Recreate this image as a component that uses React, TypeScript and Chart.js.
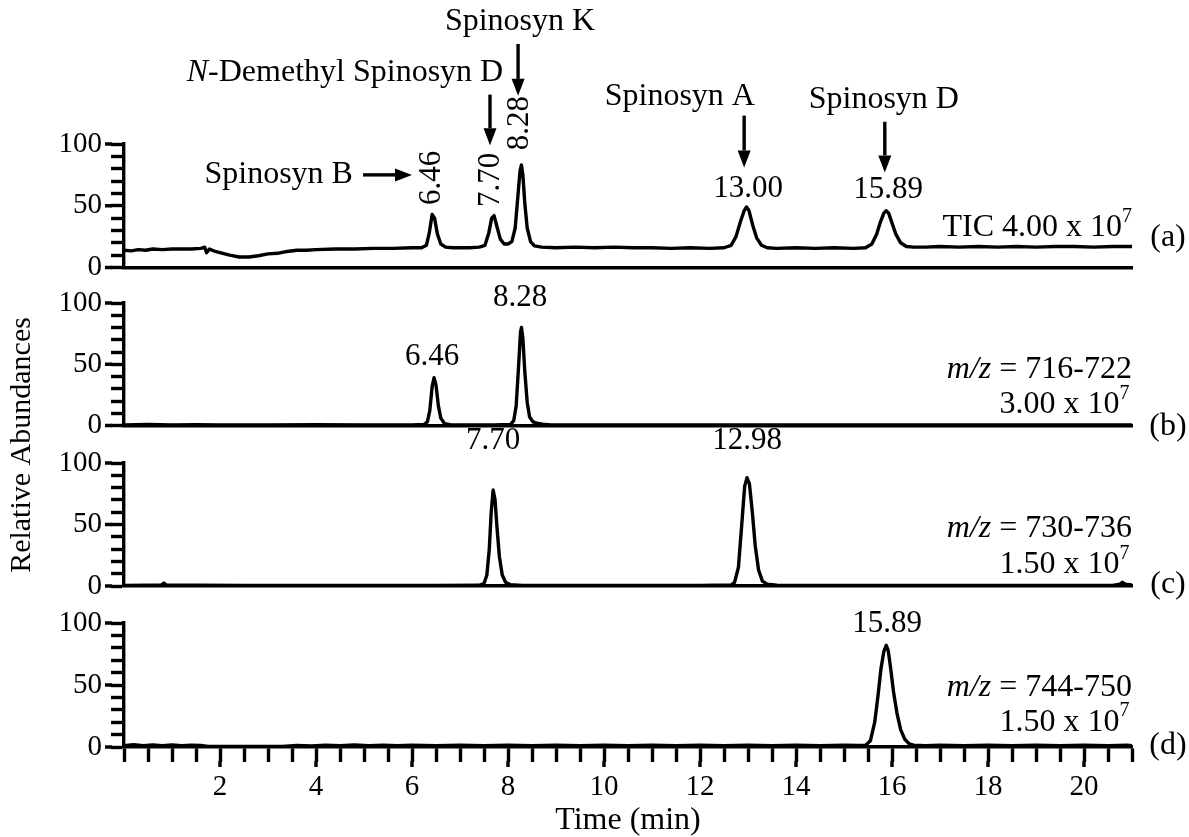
import React, { useEffect, useRef } from 'react';
import { Chart, registerables } from 'chart.js';

Chart.register(...registerables);

const W = 1189;
const H = 837;
const FAMILY = "'Liberation Serif', 'Times New Roman', serif";
const PLOT_LEFT = 124;
const PLOT_RIGHT = 1132;
const LINE = 3.4;

// ---- axis ticks ----
const timeMin = 0;
const timeMax = 21;
const timeStep = 0.5;
const timeTickLabels = [2, 4, 6, 8, 10, 12, 14, 16, 18, 20];
const abundanceStep = 10;
const abundanceTickLabels = [0, 50, 100];

// ---- traces: [time (min), relative abundance] ----
const ticTrace: [number, number][] = [
  [0, 14], [0.15, 13.5], [0.3, 14.5], [0.45, 14], [0.6, 15], [0.8, 14.5], [1.0, 15], [1.2, 15], [1.4, 15],
  [1.6, 15.5], [1.68, 16.5], [1.72, 12], [1.78, 15], [1.9, 13], [2.0, 12], [2.2, 10], [2.4, 8.5], [2.6, 8.5],
  [2.8, 9.5], [3.0, 11], [3.2, 11.5], [3.4, 13], [3.6, 14], [3.8, 14], [4.0, 14.5], [4.4, 15], [4.8, 15],
  [5.2, 15.5], [5.6, 15.5], [6.0, 16], [6.2, 16], [6.3, 18], [6.36, 28], [6.42, 43], [6.47, 40], [6.53, 27],
  [6.6, 19], [6.7, 16.5], [6.85, 16], [7.0, 16], [7.2, 16], [7.4, 16.5], [7.52, 18], [7.6, 28], [7.66, 40],
  [7.71, 42], [7.77, 33], [7.84, 23], [7.92, 19], [8.0, 19], [8.08, 21], [8.15, 32], [8.2, 55], [8.25, 78],
  [8.28, 83], [8.31, 75], [8.35, 52], [8.4, 32], [8.47, 21], [8.55, 17.5], [8.7, 16.5], [9.0, 16], [9.4, 16.5],
  [9.8, 16], [10.2, 16.5], [10.6, 16], [11.0, 16], [11.4, 15.5], [11.8, 16], [12.2, 15.5], [12.5, 16],
  [12.65, 18], [12.75, 25], [12.85, 38], [12.92, 46], [12.97, 49], [13.02, 46], [13.1, 34], [13.18, 24],
  [13.28, 18], [13.4, 16], [13.6, 15.5], [14.0, 16], [14.4, 15.5], [14.8, 16], [15.2, 15.5], [15.45, 16],
  [15.58, 19], [15.68, 27], [15.76, 37], [15.83, 44], [15.88, 46], [15.93, 44], [16.0, 36], [16.08, 27],
  [16.18, 20], [16.3, 17], [16.45, 16.5], [16.7, 16.5], [17.0, 17], [17.4, 16.5], [17.8, 17], [18.2, 16.5],
  [18.6, 17], [19.0, 16.5], [19.4, 17], [19.8, 17], [20.2, 16.5], [20.6, 17], [21.0, 17],
];

const ion716Trace: [number, number][] = [
  [0, 0.5], [0.5, 0.8], [1.0, 0.5], [1.5, 0.7], [2.0, 0.5], [3.0, 0.5], [4.0, 0.6], [5.0, 0.5], [6.0, 0.5],
  [6.25, 0.8], [6.32, 3], [6.37, 12], [6.42, 32], [6.46, 39], [6.5, 33], [6.55, 16], [6.6, 6], [6.68, 1.5],
  [6.8, 0.6], [7.2, 0.5], [7.7, 0.5], [8.05, 0.8], [8.12, 4], [8.17, 16], [8.22, 48], [8.26, 76], [8.28, 80],
  [8.31, 71], [8.35, 44], [8.4, 19], [8.45, 7], [8.52, 3], [8.6, 2], [8.72, 1], [8.9, 0.5], [10, 0.5],
  [12, 0.5], [14, 0.5], [16, 0.5], [18, 0.5], [20, 0.5], [21, 0.5],
];

const ion730Trace: [number, number][] = [
  [0, 0.5], [0.5, 0.6], [0.78, 0.8], [0.83, 2.5], [0.88, 0.8], [1.5, 0.6], [2.5, 0.5], [3.5, 0.5], [5, 0.5],
  [6.5, 0.5], [7.4, 0.6], [7.5, 2], [7.56, 9], [7.61, 30], [7.65, 60], [7.69, 78], [7.73, 70], [7.77, 48],
  [7.82, 24], [7.88, 9], [7.95, 3], [8.05, 1], [8.3, 0.5], [10, 0.5], [12, 0.5], [12.65, 0.8], [12.72, 3],
  [12.8, 15], [12.87, 50], [12.93, 81], [12.98, 88], [13.03, 83], [13.09, 60], [13.15, 33], [13.22, 13],
  [13.3, 4], [13.4, 1.5], [13.6, 0.6], [15, 0.5], [17, 0.5], [19, 0.5], [20.6, 0.5], [20.75, 1.5], [20.8, 3],
  [20.86, 1.5], [21, 0.8],
];

const ion744Trace: [number, number][] = [
  [0, 1], [0.2, 1.8], [0.4, 1], [0.6, 1.6], [0.8, 1.1], [1.0, 1.7], [1.2, 1], [1.4, 1.5], [1.6, 1.2],
  [1.75, 0.5], [2.5, 0.4], [3.3, 0.5], [3.6, 1.2], [3.9, 0.8], [4.2, 1.5], [4.5, 1], [4.8, 1.6], [5.1, 1],
  [5.4, 1.5], [5.7, 1], [6.0, 1.4], [6.5, 1], [7.0, 1.5], [7.5, 1], [8.0, 1.4], [8.5, 1], [9.0, 1.5],
  [9.5, 1], [10.0, 1.4], [10.5, 1], [11.0, 1.5], [11.5, 1], [12.0, 1.4], [12.5, 1], [13.0, 1.5], [13.5, 1],
  [14.0, 1.5], [14.5, 1], [15.0, 1.5], [15.3, 1.2], [15.45, 1.5], [15.55, 5], [15.64, 20], [15.71, 42],
  [15.77, 63], [15.83, 77], [15.88, 82], [15.92, 78], [15.97, 64], [16.03, 45], [16.1, 28], [16.18, 14],
  [16.27, 6], [16.36, 2.5], [16.45, 1.5], [16.7, 1], [17.0, 1.4], [17.5, 1], [18.0, 1.5], [18.5, 1],
  [19.0, 1.5], [19.5, 1], [20.0, 1.5], [20.5, 1], [20.9, 1.5], [21, 1],
];

// ---- annotations ----
type Seg = { t: string; it?: boolean; sup?: boolean };
type Note =
  | { kind: 'text'; x: number; y: number; segs: Seg[]; align?: 'left' | 'center' | 'right'; rot?: boolean; size?: number; px?: boolean }
  | { kind: 'arrow'; x1: number; y1: number; x2: number; y2: number };

const NAME = 32;
const PEAK = 31;
const t = (s: string): Seg[] => [{ t: s }];
const tenTo = (lead: string): Seg[] => [{ t: lead + ' x 10' }, { t: '7', sup: true }];
const mz = (range: string): Seg[] => [{ t: 'm/z', it: true }, { t: ' = ' + range }];

const notesA: Note[] = [
  { kind: 'text', x: 8.25, y: 199, segs: t('Spinosyn K'), size: NAME },
  { kind: 'arrow', x1: 8.21, y1: 181, x2: 8.21, y2: 139 },
  { kind: 'text', x: 7.9, y: 158, segs: [{ t: 'N', it: true }, { t: '-Demethyl Spinosyn D' }], align: 'right', size: NAME },
  { kind: 'arrow', x1: 7.625, y1: 140, x2: 7.625, y2: 99 },
  { kind: 'text', x: 4.77, y: 75, segs: t('Spinosyn B'), align: 'right', size: NAME },
  { kind: 'arrow', x1: 4.98, y1: 75, x2: 6.0, y2: 75 },
  { kind: 'text', x: 6.42, y: 72.5, segs: t('6.46'), rot: true, size: PEAK },
  { kind: 'text', x: 7.65, y: 71, segs: t('7.70'), rot: true, size: PEAK },
  { kind: 'text', x: 8.25, y: 117, segs: t('8.28'), rot: true, size: PEAK },
  { kind: 'text', x: 11.58, y: 138, segs: t('Spinosyn A'), size: NAME },
  { kind: 'arrow', x1: 12.92, y1: 123, x2: 12.92, y2: 81 },
  { kind: 'text', x: 13.0, y: 64, segs: t('13.00'), size: PEAK },
  { kind: 'text', x: 15.83, y: 135.6, segs: t('Spinosyn D'), size: NAME },
  { kind: 'arrow', x1: 15.85, y1: 118, x2: 15.85, y2: 77 },
  { kind: 'text', x: 15.92, y: 63, segs: t('15.89'), size: PEAK },
  { kind: 'text', x: 21, y: 32, segs: [{ t: 'TIC 4.00 x 10' }, { t: '7', sup: true }], align: 'right', size: NAME },
  { kind: 'text', x: 21.75, y: 24, segs: t('(a)'), size: NAME },
];

const notesB: Note[] = [
  { kind: 'text', x: 6.42, y: 56, segs: t('6.46'), size: PEAK },
  { kind: 'text', x: 8.25, y: 104, segs: t('8.28'), size: PEAK },
  { kind: 'text', x: 21, y: 45.7, segs: mz('716-722'), align: 'right', size: NAME },
  { kind: 'text', x: 20.95, y: 16.7, segs: tenTo('3.00'), align: 'right', size: NAME },
  { kind: 'text', x: 21.75, y: -1, segs: t('(b)'), size: NAME },
];

const notesC: Note[] = [
  { kind: 'text', x: 7.69, y: 118, segs: t('7.70'), size: PEAK },
  { kind: 'text', x: 12.98, y: 118, segs: t('12.98'), size: PEAK },
  { kind: 'text', x: 21, y: 47, segs: mz('730-736'), align: 'right', size: NAME },
  { kind: 'text', x: 20.95, y: 17, segs: tenTo('1.50'), align: 'right', size: NAME },
  { kind: 'text', x: 21.75, y: 1, segs: t('(c)'), size: NAME },
  { kind: 'text', x: 22, y: 445, segs: t('Relative Abundances'), rot: true, size: 30, px: true },
];

const notesD: Note[] = [
  { kind: 'text', x: 15.9, y: 99, segs: t('15.89'), size: PEAK },
  { kind: 'text', x: 21, y: 47.6, segs: mz('744-750'), align: 'right', size: NAME },
  { kind: 'text', x: 20.95, y: 20, segs: tenTo('1.50'), align: 'right', size: NAME },
  { kind: 'text', x: 21.75, y: 1, segs: t('(d)'), size: NAME },
];

type Panel = { trace: [number, number][]; top: number; bottom: number; showTime: boolean; notes: Note[] };

const PANELS: Panel[] = [
  { trace: ticTrace, top: 144, bottom: 267.5, showTime: false, notes: notesA },
  { trace: ion716Trace, top: 303, bottom: 425.5, showTime: false, notes: notesB },
  { trace: ion730Trace, top: 463, bottom: 586, showTime: false, notes: notesC },
  { trace: ion744Trace, top: 623, bottom: 747, showTime: true, notes: notesD },
];

const Y_TICK = 13;
const Y_MAJOR = 19;
const X_TICK = 15;
const X_MAJOR = 20;

function drawSegs(ctx: CanvasRenderingContext2D, segs: Seg[], x: number, y: number, align: string, size: number) {
  const fontFor = (s: Seg) => `${s.it ? 'italic ' : ''}${s.sup ? Math.round(size * 0.62) : size}px ${FAMILY}`;
  let total = 0;
  const widths = segs.map((s) => {
    ctx.font = fontFor(s);
    const w = ctx.measureText(s.t).width;
    total += w;
    return w;
  });
  let cx = align === 'left' ? x : align === 'right' ? x - total : x - total / 2;
  ctx.textAlign = 'left';
  ctx.textBaseline = 'middle';
  segs.forEach((s, i) => {
    ctx.font = fontFor(s);
    ctx.fillText(s.t, cx, s.sup ? y - size * 0.36 : y);
    cx += widths[i];
  });
}

function drawArrow(ctx: CanvasRenderingContext2D, x1: number, y1: number, x2: number, y2: number) {
  const ang = Math.atan2(y2 - y1, x2 - x1);
  const head = 17;
  const half = 6.5;
  const bx = x2 - head * Math.cos(ang);
  const by = y2 - head * Math.sin(ang);
  ctx.lineWidth = LINE;
  ctx.beginPath();
  ctx.moveTo(x1, y1);
  ctx.lineTo(bx, by);
  ctx.stroke();
  ctx.beginPath();
  ctx.moveTo(x2, y2);
  ctx.lineTo(bx + half * Math.sin(ang), by - half * Math.cos(ang));
  ctx.lineTo(bx - half * Math.sin(ang), by + half * Math.cos(ang));
  ctx.closePath();
  ctx.fill();
}

function notesPlugin(notes: Note[], showTime: boolean) {
  return {
    id: 'notes',
    afterDraw(chart: any) {
      const { ctx, chartArea } = chart;
      const xs = chart.scales.x;
      const ys = chart.scales.y;
      ctx.save();
      ctx.fillStyle = '#000';
      ctx.strokeStyle = '#000';
      // longer major ticks
      ctx.lineWidth = LINE;
      ctx.beginPath();
      abundanceTickLabels.forEach((v) => {
        const py = ys.getPixelForValue(v);
        ctx.moveTo(chartArea.left - Y_TICK + 1, py);
        ctx.lineTo(chartArea.left - Y_MAJOR, py);
      });
      if (showTime) {
        timeTickLabels.forEach((v) => {
          const px = xs.getPixelForValue(v);
          ctx.moveTo(px, chartArea.bottom + X_TICK - 1);
          ctx.lineTo(px, chartArea.bottom + X_MAJOR);
        });
      }
      ctx.stroke();
      notes.forEach((n) => {
        if (n.kind === 'arrow') {
          drawArrow(ctx, xs.getPixelForValue(n.x1), ys.getPixelForValue(n.y1), xs.getPixelForValue(n.x2), ys.getPixelForValue(n.y2));
          return;
        }
        const px = n.px ? n.x : xs.getPixelForValue(n.x);
        const py = n.px ? n.y : ys.getPixelForValue(n.y);
        const size = n.size || NAME;
        if (n.rot) {
          ctx.save();
          ctx.translate(px, py);
          ctx.rotate(-Math.PI / 2);
          drawSegs(ctx, n.segs, 0, 0, 'center', size);
          ctx.restore();
        } else {
          drawSegs(ctx, n.segs, px, py, n.align || 'center', size);
        }
      });
      ctx.restore();
    },
  };
}

function buildConfig(p: Panel): any {
  const xAxisHeight = p.showTime ? H - p.bottom : 0;
  const x: any = p.showTime
    ? {
        type: 'linear',
        min: timeMin,
        max: timeMax,
        afterFit: (s: any) => { s.height = xAxisHeight; },
        ticks: {
          stepSize: timeStep,
          autoSkip: false,
          maxRotation: 0,
          minRotation: 0,
          maxTicksLimit: 100,
          padding: 8,
          color: '#000',
          font: { family: FAMILY, size: 29 },
          callback: (v: number) => (timeTickLabels.includes(v) ? String(v) : ''),
        },
        grid: { display: true, drawOnChartArea: false, drawTicks: true, tickLength: X_TICK, tickWidth: LINE, tickColor: '#000', color: '#000' },
        border: { display: true, color: '#000', width: LINE },
        title: { display: true, text: 'Time (min)', color: '#000', font: { family: FAMILY, size: 32, lineHeight: 1 }, padding: { top: 0, bottom: 0 } },
      }
    : {
        type: 'linear',
        min: timeMin,
        max: timeMax,
        afterFit: (s: any) => { s.height = 0; },
        ticks: { display: false },
        grid: { display: false },
        border: { display: true, color: '#000', width: LINE },
      };
  return {
    type: 'line',
    data: {
      datasets: [
        {
          data: p.trace.map(([tx, ty]) => ({ x: tx, y: ty })),
          borderColor: '#000',
          borderWidth: LINE,
          pointRadius: 0,
          tension: 0,
          fill: false,
          borderJoinStyle: 'round',
          borderCapStyle: 'round',
        },
      ],
    },
    options: {
      responsive: false,
      animation: false,
      events: [],
      layout: { padding: { left: 0, right: W - PLOT_RIGHT, top: p.top, bottom: H - p.bottom - xAxisHeight } },
      plugins: { legend: { display: false }, tooltip: { enabled: false } },
      scales: {
        x,
        y: {
          type: 'linear',
          min: 0,
          max: 100,
          afterFit: (s: any) => { s.width = PLOT_LEFT; },
          ticks: {
            stepSize: abundanceStep,
            autoSkip: false,
            padding: 9,
            color: '#000',
            font: { family: FAMILY, size: 29 },
            callback: (v: number) => (abundanceTickLabels.includes(v) ? String(v) : ''),
          },
          grid: { display: true, drawOnChartArea: false, drawTicks: true, tickLength: Y_TICK, tickWidth: LINE, tickColor: '#000', color: '#000' },
          border: { display: true, color: '#000', width: LINE },
        },
      },
    },
    plugins: [notesPlugin(p.notes, p.showTime)],
  };
}

export default function App() {
  const r0 = useRef<HTMLCanvasElement>(null);
  const r1 = useRef<HTMLCanvasElement>(null);
  const r2 = useRef<HTMLCanvasElement>(null);
  const r3 = useRef<HTMLCanvasElement>(null);
  const refs = [r0, r1, r2, r3];

  useEffect(() => {
    const charts = PANELS.map((p, i) => new Chart(refs[i].current as HTMLCanvasElement, buildConfig(p)));
    return () => charts.forEach((c) => c.destroy());
  }, []);

  return (
    <div style={{ position: 'fixed', left: 0, top: 0, width: W, height: H, background: '#fff' }}>
      {PANELS.map((_, i) => (
        <canvas key={i} ref={refs[i]} width={W} height={H} style={{ position: 'absolute', left: 0, top: 0 }} />
      ))}
    </div>
  );
}
